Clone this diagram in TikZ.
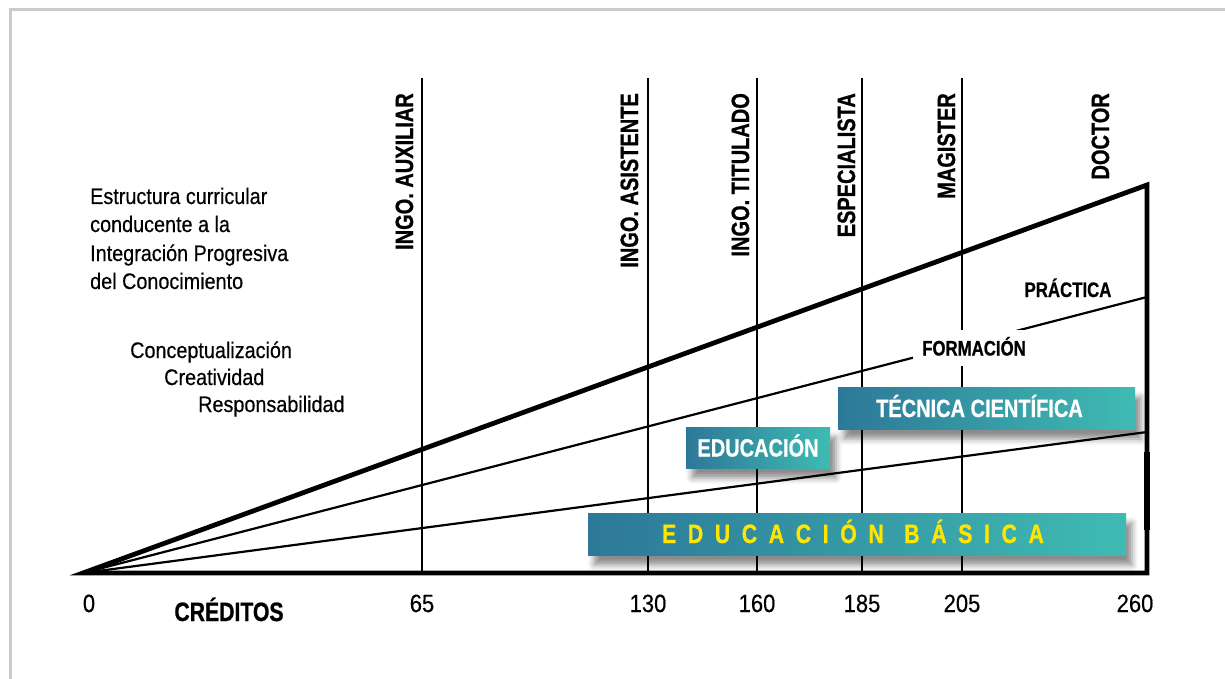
\documentclass[tikz,border=0pt]{standalone}
\usepackage{fontspec}
\newfontfamily\condreg[FakeStretch=0.88,FakeBold=0.4]{Liberation Sans}
\newfontfamily\condbold[FakeStretch=0.8,FakeBold=0.8]{Liberation Sans Bold}
\usetikzlibrary{positioning,shadows.blur}

\definecolor{bandleft}{HTML}{2D7898}
\definecolor{bandright}{HTML}{3FBBB3}
\definecolor{bandtext}{HTML}{FFE500}
\definecolor{framegray}{HTML}{CCCCCC}

\begin{document}
\begin{tikzpicture}[
  x=1pt, y=-1pt,
  frameline/.style={draw=framegray, line width=3pt},
  heavy/.style={line width=4.8pt, line join=miter},
  gridline/.style={line width=2.2pt},
  rayline/.style={line width=2.2pt},
  stage/.style={rotate=90, anchor=base east, inner sep=0pt,
                font=\condbold\fontsize{25}{25}\selectfont},
  numlabel/.style={anchor=base, inner sep=0pt, font=\condreg\fontsize{25}{25}\selectfont},
  sidenote/.style={anchor=base west, inner sep=0pt, font=\condreg\fontsize{22.5}{22.5}\selectfont},
  phase/.style={inner sep=0pt, font=\condbold\fontsize{21}{21}\selectfont},
  bandbox/.style={left color=bandleft, right color=bandright, draw=none, inner sep=0pt,
                  text=white, text height=18pt, text depth=0pt,
                  font=\condbold\fontsize{25}{25}\selectfont,
                  blur shadow={shadow xshift=6pt, shadow yshift=-10pt,
                               shadow blur radius=6pt, shadow opacity=45}},
]
  \useasboundingbox (0,0) rectangle (1225,679);

  % Frame
  \coordinate (fr-bl) at (10,690);
  \coordinate (fr-tl) at (10,10);
  \coordinate (fr-tr) at (1235,10);
  \draw[frameline] (fr-bl) -- (fr-tl) -- (fr-tr);

  % Axes and rays
  \coordinate (orig)   at (83,573);
  \coordinate (corner) at (1147,573);
  \coordinate (peak)   at (1147,185);
  \coordinate (prac)   at (1147,297);
  \coordinate (low)    at (1147,432);
  \coordinate (edge-a) at (1147,452);
  \coordinate (edge-b) at (1147,530);

  \foreach \x/\nm in {422/aux,648/asi,757/tit,862/esp,962/mag}{
    \coordinate (\nm-t) at (\x,78);
    \coordinate (\nm-b) at (\x,573);
    \draw[gridline] (\nm-t) -- (\nm-b);
  }

  \draw[rayline] (orig) -- (prac);
  \draw[rayline] (orig) -- (low);
  \draw[heavy] (orig) -- (peak) -- (corner) -- cycle;
  \draw[line width=6.5pt] (edge-a) -- (edge-b);

  % Stage labels
  \foreach \x/\nm/\txt in {413/aux/INGO. AUXILIAR, 638/asi/INGO. ASISTENTE,
                           749/tit/INGO. TITULADO, 855/esp/ESPECIALISTA,
                           955/mag/MAGISTER, 1109/doc/DOCTOR}
    \node[stage] (lab-\nm) at (\x,93) {\txt};

  % Credits
  \foreach \x/\nm/\val in {89/c0/0, 422/c65/65, 648/c130/130, 757/c160/160,
                           862/c185/185, 962/c205/205, 1135/c260/260}
    \node[numlabel] (\nm) at (\x,612) {\val};
  \node[anchor=base, inner sep=0pt, font=\condbold\fontsize{26.5}{26.5}\selectfont]
    (creditos) at (229,621) {CRÉDITOS};

  % Side notes
  \node[sidenote] (est1) at (90,204) {Estructura curricular};
  \node[sidenote] (est2) at (90,232) {conducente a la};
  \node[sidenote] (est3) at (90,261) {Integración Progresiva};
  \node[sidenote] (est4) at (90,289) {del Conocimiento};
  \node[sidenote] (val1) at (130,358) {Conceptualización};
  \node[sidenote] (val2) at (164,385) {Creatividad};
  \node[sidenote] (val3) at (198,412) {Responsabilidad};

  % Ray labels
  \node[phase, anchor=base] (practica) at (1068,297) {PRÁCTICA};
  \node[phase, fill=white, text height=15pt, text depth=0pt,
        minimum width=122pt, minimum height=36pt] (formacion) at (974,348) {FORMACIÓN};

  % Bands
  \node[bandbox, minimum width=144pt, minimum height=41pt] (educ) at (758,447.5) {EDUCACIÓN};
  \node[bandbox, minimum width=297pt, minimum height=42pt] (tecn) at (986.5,408)
    {TÉCNICA CIENTÍFICA\rule{14pt}{0pt}};
  \node[bandbox, minimum width=538pt, minimum height=42pt, text=bandtext,
        font=\condbold\fontsize{26.5}{26.5}\selectfont\addfontfeature{LetterSpace=44}]
    (basica) at (857,534) {EDUCACIÓN\hspace{3pt} BÁSICA\rule{8pt}{0pt}};
\end{tikzpicture}
\end{document}
